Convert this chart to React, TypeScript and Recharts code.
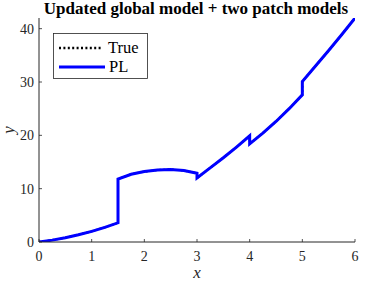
import { Legend, Line, LineChart, XAxis, YAxis } from "recharts";

// x/y samples; repeated x values are the jumps
const xValues = [
  0, 0.25, 0.5, 0.75, 1, 1.25, 1.5,
  1.5, 1.75, 2, 2.25, 2.5, 2.75, 3,
  3, 3.25, 3.5, 3.75, 4,
  4, 4.25, 4.5, 4.75, 5,
  5, 5.25, 5.5, 5.75, 6
];
const plValues = [
  0, 0.35, 0.8, 1.35, 2.0, 2.75, 3.6,
  11.8, 12.7, 13.2, 13.5, 13.6, 13.4, 12.9,
  12.0, 13.9, 15.8, 17.8, 19.9,
  18.4, 20.4, 22.6, 25.0, 27.6,
  30.1, 33.0, 35.9, 38.9, 42.0
];
const trueValues = [...plValues];

const xTicks = [0, 1, 2, 3, 4, 5, 6];
const yTicks = [0, 10, 20, 30, 40];

const data = xValues.map((x, i) => ({ x, pl: plValues[i], truth: trueValues[i] }));

const W = 390;
const H = 282;
const FONT = "'Liberation Serif', 'Times New Roman', serif";
const AXIS = "#262626";

const BottomTick = ({ x, y, payload }: any) => (
  <g>
    <line x1={x} y1={y} x2={x} y2={y - 3} stroke={AXIS} strokeWidth={0.8} />
    <text x={x} y={y + 19} textAnchor="middle" fontFamily={FONT} fontSize={14} fill={AXIS}>
      {payload.value}
    </text>
  </g>
);

const LeftTick = ({ x, y, payload }: any) => (
  <g>
    <line x1={x} y1={y} x2={x + 3} y2={y} stroke={AXIS} strokeWidth={0.8} />
    <text x={x - 5} y={y + 5} textAnchor="end" fontFamily={FONT} fontSize={14} fill={AXIS}>
      {payload.value}
    </text>
  </g>
);

const TopTick = ({ x, y }: any) => (
  <line x1={x} y1={y} x2={x} y2={y + 3} stroke={AXIS} strokeWidth={0.8} />
);

const RightTick = ({ x, y }: any) => (
  <line x1={x} y1={y} x2={x - 3} y2={y} stroke={AXIS} strokeWidth={0.8} />
);

function LegendBox() {
  return (
    <svg width={95} height={46} style={{ display: "block" }}>
      <rect x={0.5} y={0.5} width={94} height={45} fill="#fff" stroke={AXIS} strokeWidth={0.8} />
      <line x1={6} y1={15} x2={50} y2={15} stroke="#000" strokeWidth={2.5} strokeDasharray="2 2.4" />
      <text x={55} y={20} fontFamily={FONT} fontSize={16.5} fill="#000">True</text>
      <line x1={6} y1={34} x2={52} y2={34} stroke="#0000ff" strokeWidth={3} />
      <text x={56} y={39} fontFamily={FONT} fontSize={16.5} fill="#000">PL</text>
    </svg>
  );
}

export default function App() {
  return (
    <div style={{ position: "absolute", left: 0, top: 0, width: W, height: H, background: "#fff" }}>
      <LineChart
        width={W}
        height={H}
        data={data}
        margin={{ top: 18, right: 35, bottom: 0, left: 0 }}
      >
        <XAxis
          dataKey="x"
          type="number"
          domain={[0, 6]}
          ticks={xTicks}
          height={40}
          tickSize={0}
          tickMargin={0}
          tickLine={false}
          stroke={AXIS}
          tick={<BottomTick />}
          allowDataOverflow
        />
        <XAxis
          xAxisId="top"
          orientation="top"
          dataKey="x"
          type="number"
          domain={[0, 6]}
          ticks={xTicks}
          height={0}
          tickSize={0}
          tickMargin={0}
          tickLine={false}
          stroke={AXIS}
          tick={<TopTick />}
        />
        <YAxis
          type="number"
          domain={[0, 42]}
          ticks={yTicks}
          width={39}
          tickSize={0}
          tickMargin={0}
          tickLine={false}
          stroke={AXIS}
          tick={<LeftTick />}
          allowDataOverflow
        />
        <YAxis
          yAxisId="right"
          orientation="right"
          type="number"
          domain={[0, 42]}
          ticks={yTicks}
          width={0}
          tickSize={0}
          tickMargin={0}
          tickLine={false}
          stroke={AXIS}
          tick={<RightTick />}
        />
        <Legend
          layout="vertical"
          align="center"
          verticalAlign="middle"
          wrapperStyle={{ left: 53, top: 33, width: 95, height: 46 }}
          content={() => <LegendBox />}
        />
        <Line
          dataKey="truth"
          type="linear"
          stroke="#000"
          strokeWidth={2}
          strokeDasharray="2 2.4"
          dot={false}
          isAnimationActive={false}
        />
        <Line
          dataKey="pl"
          type="linear"
          stroke="#0000ff"
          strokeWidth={3}
          dot={false}
          isAnimationActive={false}
        />
      </LineChart>
      <svg
        width={W}
        height={H}
        style={{ position: "absolute", left: 0, top: 0, pointerEvents: "none" }}
      >
        <text x={196} y={14} textAnchor="middle" fontFamily={FONT} fontWeight="bold" fontSize={17} fill="#000">
          Updated global model + two patch models
        </text>
        <text x={197} y={278} textAnchor="middle" fontFamily={FONT} fontStyle="italic" fontSize={17} fill={AXIS}>
          x
        </text>
        <text
          x={14}
          y={130}
          textAnchor="middle"
          fontFamily={FONT}
          fontStyle="italic"
          fontSize={17}
          fill={AXIS}
          transform="rotate(-90 14 130)"
        >
          y
        </text>
      </svg>
    </div>
  );
}
